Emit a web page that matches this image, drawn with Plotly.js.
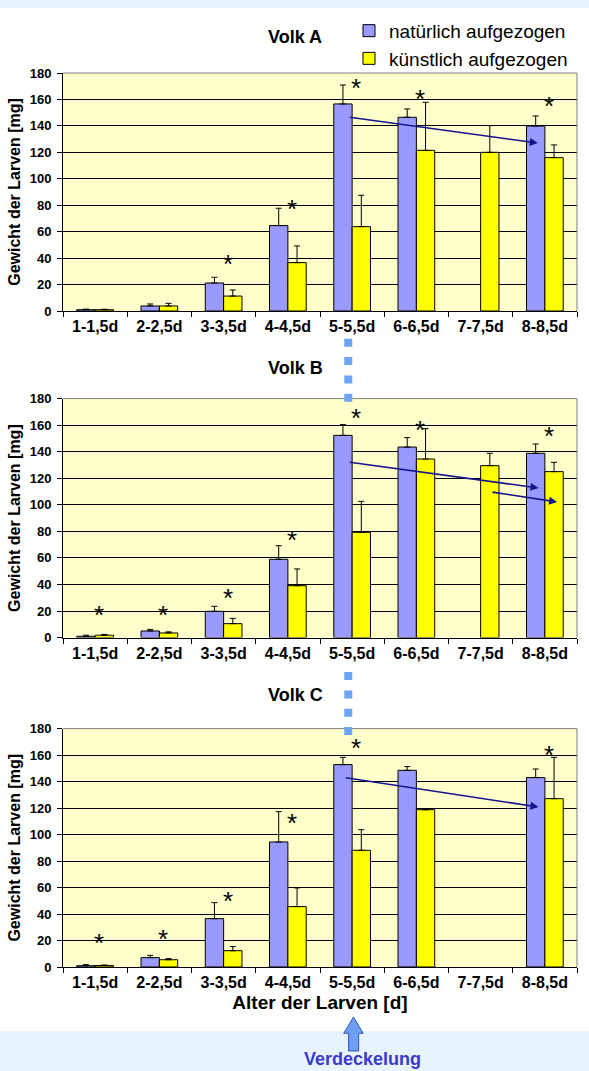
<!DOCTYPE html>
<html>
<head>
<meta charset="utf-8">
<script src="https://cdn.plot.ly/plotly-3.0.1.min.js"></script>
<style>
  html, body { margin: 0; padding: 0; background: #ffffff; }
  #chart { width: 589px; height: 1071px; }
</style>
</head>
<body>
<div id="chart"></div>
<script>
// ---------------- data ----------------
const categories = ['1-1,5d', '2-2,5d', '3-3,5d', '4-4,5d', '5-5,5d', '6-6,5d', '7-7,5d', '8-8,5d'];
const seriesNames = ['natürlich aufgezogen', 'künstlich aufgezogen'];
const panelTitles = ['Volk A', 'Volk B', 'Volk C'];

// Volk A
const natA     = [1.0, 3.8, 21.2, 64.6, 156.6, 146.5, null, 139.9];
const natErrA  = [0.4, 1.5, 4.3, 13.1, 14.3, 6.3, null, 7.6];
const kunA     = [1.0, 3.8, 11.3, 36.6, 63.8, 121.5, 120.0, 116.0];
const kunErrA  = [0.3, 2.0, 4.6, 12.6, 23.7, 36.3, 20.2, 9.6];
const starsA   = [null, null, 37.6, 79.4, 170.7, 161.9, null, 156.8];

// Volk B
const natB     = [1.0, 5.0, 19.8, 59.0, 152.3, 143.5, null, 138.8];
const natErrB  = [0.8, 1.2, 3.8, 10.2, 8.1, 7.1, null, 7.0];
const kunB     = [1.8, 3.5, 10.5, 39.1, 79.3, 134.5, 129.5, 125.0];
const kunErrB  = [0.6, 0.8, 4.0, 12.6, 23.3, 22.9, 9.3, 7.0];
const starsB   = [18.8, 18.8, 31.9, 75.3, 167.4, 158.6, null, 153.6];

// Volk C
const natC     = [1.0, 7.1, 36.5, 94.4, 152.8, 148.5, null, 143.0];
const natErrC  = [0.8, 1.7, 12.1, 22.9, 5.5, 2.8, null, 6.5];
const kunC     = [1.1, 5.5, 12.3, 45.6, 88.1, 118.8, null, 127.1];
const kunErrC  = [0.4, 0.8, 3.1, 14.1, 15.6, null, null, 31.2];
const starsC   = [20.1, 23.2, 52.0, 110.7, 167.4, null, null, 162.3];

// trend arrows: [tailIndex, tailValue, headIndex, headValue]
const arrowsA = [[3.94, 146.7, 6.89, 127.0]];
const arrowsB = [[3.94, 132.2, 6.90, 112.7], [6.16, 109.7, 7.19, 102.2]];
const arrowsC = [[3.88, 143.0, 6.90, 120.8]];

const yAxisTitle = 'Gewicht der Larven [mg]';
const xAxisTitle = 'Alter der Larven [d]';
const cappingLabel = 'Verdeckelung';
const cappingIndex = 3.94;

// ---------------- geometry helpers (pixels -> paper) ----------------
const W = 589, H = 1071;
const L = 63, R = 577, T = 72.7, B = 966.7;
const px = p => (p - L) / (R - L);
const py = p => (B - p) / (B - T);

const FONT = 'Liberation Sans, Arial, sans-serif';
const BLUE = '#9999ff', YELLOW = '#ffff00';

const panels = [
  {nat: natA, natErr: natErrA, kun: kunA, kunErr: kunErrA, stars: starsA, arrows: arrowsA, top: 72.7,  bottom: 310.7, titleY: 37},
  {nat: natB, natErr: natErrB, kun: kunB, kunErr: kunErrB, stars: starsB, arrows: arrowsB, top: 398.3, bottom: 637.3, titleY: 368},
  {nat: natC, natErr: natErrC, kun: kunC, kunErr: kunErrC, stars: starsC, arrows: arrowsC, top: 728.3, bottom: 966.7, titleY: 695},
];

const data = [];
const annotations = [];
const shapes = [];
const layout = {
  width: W, height: H,
  margin: {l: L, r: W - R, t: T, b: H - B, pad: 0},
  paper_bgcolor: 'rgba(0,0,0,0)',
  plot_bgcolor: '#ffffcc',
  barmode: 'group',
  bargap: 0.4286,
  bargroupgap: 0,
  font: {family: FONT, color: '#000000'},
  showlegend: true,
  legend: {
    x: px(349), xanchor: 'left', y: py(11.5), yanchor: 'top',
    bgcolor: 'rgba(0,0,0,0)', borderwidth: 0,
    font: {family: FONT, size: 19, color: '#000000'},
    traceorder: 'normal', tracegroupgap: 0
  },
  annotations: annotations,
  shapes: shapes
};

// background bands
shapes.push({type: 'rect', xref: 'paper', yref: 'paper', layer: 'below',
  x0: px(0), x1: px(W), y0: py(0), y1: py(8), fillcolor: '#e6f4fc', line: {width: 0}});
shapes.push({type: 'rect', xref: 'paper', yref: 'paper', layer: 'below',
  x0: px(0), x1: px(W), y0: py(1031), y1: py(H), fillcolor: '#e8f4fc', line: {width: 0}});

panels.forEach((p, i) => {
  const n = i === 0 ? '' : String(i + 1);
  const xa = 'x' + n, ya = 'y' + n;
  const dom = [py(p.bottom), py(p.top)];

  layout['xaxis' + n] = {
    domain: [0, 1], anchor: ya, type: 'category', range: [-0.5, 7.5],
    showline: true, linecolor: '#000000', linewidth: 1,
    ticks: 'outside', ticklen: 5, tickcolor: '#000000', tickwidth: 1,
    tickson: 'boundaries', showgrid: false, zeroline: false,
    tickfont: {family: FONT, size: 16, weight: 'bold', color: '#000000'},
    ticklabelstandoff: 1,
    automargin: false, fixedrange: true,
    title: i === 2 ? {text: xAxisTitle, font: {family: FONT, size: 19, weight: 'bold', color: '#000000'}, standoff: 5} : {text: ''}
  };
  layout['yaxis' + n] = {
    domain: dom, anchor: xa, range: [0, 180], dtick: 20, tick0: 0,
    showline: true, linecolor: '#000000', linewidth: 1,
    ticks: 'outside', ticklen: 5, tickcolor: '#000000', tickwidth: 1,
    showgrid: true, gridcolor: '#000000', gridwidth: 1, zeroline: false,
    tickfont: {family: FONT, size: 13, weight: 'bold', color: '#000000'},
    ticklabelstandoff: 3,
    automargin: false, fixedrange: true,
    title: {text: yAxisTitle, font: {family: FONT, size: 16, weight: 'bold', color: '#000000'}, standoff: 5}
  };

  const common = {type: 'bar', x: categories, xaxis: xa, yaxis: ya, hoverinfo: 'skip'};
  data.push(Object.assign({}, common, {
    name: seriesNames[0], y: p.nat, legendgroup: 'nat', showlegend: i === 0,
    marker: {color: BLUE, line: {color: '#000000', width: 1}},
    error_y: {type: 'data', symmetric: false, array: p.natErr, arrayminus: p.natErr.map(() => 0),
              color: '#000000', thickness: 1, width: 3}
  }));
  data.push(Object.assign({}, common, {
    name: seriesNames[1], y: p.kun, legendgroup: 'kun', showlegend: i === 0,
    marker: {color: YELLOW, line: {color: '#000000', width: 1}},
    error_y: {type: 'data', symmetric: false, array: p.kunErr, arrayminus: p.kunErr.map(() => 0),
              color: '#000000', thickness: 1, width: 3}
  }));

  // grey plot-area border (top and right)
  shapes.push({type: 'line', xref: xa + ' domain', yref: ya + ' domain', layer: 'above',
    x0: 0, x1: 1, y0: 1, y1: 1, line: {color: '#808080', width: 1}});
  shapes.push({type: 'line', xref: xa + ' domain', yref: ya + ' domain', layer: 'above',
    x0: 1, x1: 1, y0: 0, y1: 1, line: {color: '#808080', width: 1}});

  // panel title
  annotations.push({xref: 'paper', yref: 'paper', x: px(295), y: py(p.titleY),
    xanchor: 'center', yanchor: 'middle', showarrow: false,
    text: panelTitles[i], font: {family: FONT, size: 18, weight: 'bold', color: '#000000'}});

  // significance stars
  p.stars.forEach((v, k) => {
    if (v === null) return;
    annotations.push({xref: xa, yref: ya, x: categories[k], y: v, xshift: 4, yshift: -2.5,
      xanchor: 'center', yanchor: 'middle', showarrow: false, text: '*',
      font: {family: FONT, size: 26, color: '#000000'}});
  });

  // trend arrows
  p.arrows.forEach(a => {
    annotations.push({xref: xa, yref: ya, axref: xa, ayref: ya,
      x: a[2], y: a[3], ax: a[0], ay: a[1], text: '', showarrow: true,
      arrowhead: 2, arrowsize: 1, arrowwidth: 1.6, arrowcolor: '#14148c', standoff: 0, startstandoff: 0});
  });
});

// "Verdeckelung" dotted marker line (between panels)
[[338.5, 402.5], [671.8, 735.8]].forEach(seg => {
  shapes.push({type: 'line', xref: 'x', yref: 'paper', layer: 'above',
    x0: cappingIndex, x1: cappingIndex, y0: py(seg[0]), y1: py(seg[1]),
    line: {color: '#6ea4f4', width: 8, dash: '8px,10.3px'}});
});

// block arrow pointing up
const arrowPts = [[353.5, 1016.7], [363.2, 1033], [358.7, 1033], [358.7, 1050.7],
                  [348.6, 1050.7], [348.6, 1033], [343.7, 1033]];
shapes.push({type: 'path', xref: 'paper', yref: 'paper', layer: 'above',
  path: 'M ' + arrowPts.map(q => px(q[0]).toFixed(5) + ',' + py(q[1]).toFixed(5)).join(' L ') + ' Z',
  fillcolor: '#6f9ff5', line: {color: '#2d56b8', width: 1}});

annotations.push({xref: 'paper', yref: 'paper', x: px(362.8), y: py(1059),
  xanchor: 'center', yanchor: 'middle', showarrow: false, text: cappingLabel,
  font: {family: FONT, size: 18, weight: 'bold', color: '#3a3acc'}});

Plotly.newPlot('chart', data, layout, {staticPlot: true, displayModeBar: false});
</script>
</body>
</html>
